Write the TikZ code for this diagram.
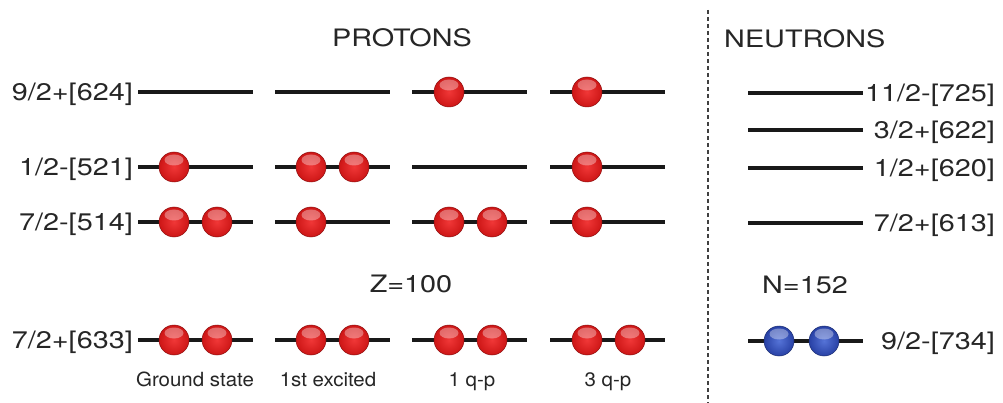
\documentclass[tikz,border=0pt]{standalone}
\usepackage{fontspec}
\setmainfont{TeX Gyre Heros}[FakeStretch=1.2]
\newfontfamily\capfont{TeX Gyre Heros}[FakeStretch=1.05]
\definecolor{redin}{RGB}{240,55,55}
\definecolor{redout}{RGB}{205,22,22}
\definecolor{bluein}{RGB}{85,115,215}
\definecolor{blueout}{RGB}{40,65,165}
\definecolor{levelgray}{RGB}{25,25,25}
\begin{document}
\begin{tikzpicture}[x=1pt,y=-1pt,
  level/.style={draw=levelgray,line width=3.6pt},
  lab/.style={font=\fontsize{24}{28}\selectfont,text=black!85,inner sep=0pt},
  caplab/.style={font=\capfont\fontsize{19.5}{22}\selectfont,text=black!85,inner sep=0pt,anchor=base},
  gloss/.style={path picture={\fill[white,opacity=0.35] ([yshift=-8pt]path picture bounding box.north) ellipse [x radius=9.5pt,y radius=5.5pt];}},
  pball/.style={circle,minimum size=30pt,inner sep=0pt,draw=redout!70!black,line width=0.5pt,inner color=redin,outer color=redout,gloss},
  nball/.style={circle,minimum size=30pt,inner sep=0pt,draw=blueout!70!black,line width=0.5pt,inner color=bluein,outer color=blueout,gloss},
  sep/.style={draw=black!75,line width=1.6pt,dash pattern=on 4pt off 3pt}]
\useasboundingbox (0,0) rectangle (1003,403);
\fill[white] (0,0) rectangle (1003,403);

% titles
\node[lab,anchor=base] (protons) at (402,47) {PROTONS};
\node[lab,anchor=base west] (neutrons) at (724,48) {NEUTRONS};
\node[lab,anchor=base] (z) at (411,292) {Z=100};
\node[lab,anchor=base] (n) at (805,293) {N=152};

% separator
\coordinate (septop) at (708,10);
\coordinate (sepbot) at (708,403);
\draw[sep] (septop) -- (sepbot);

% proton levels
\foreach \c/\x in {1/138,2/275,3/412,4/550}{
  \foreach \r/\y in {a/92,b/167,c/222,d/340}{
    \coordinate (L\c\r) at (\x,\y);
    \coordinate (R\c\r) at (\x+115,\y);
    \draw[level] (L\c\r) -- (R\c\r);
  }
}
% neutron levels
\foreach \r/\y in {a/93,b/130,c/168,d/223,e/341}{
  \coordinate (NL\r) at (748,\y);
  \coordinate (NR\r) at (863,\y);
  \draw[level] (NL\r) -- (NR\r);
}

% proton labels
\node[lab,anchor=base east] (l624) at (133,100.5) {9/2+[624]};
\node[lab,anchor=base east] (l521) at (133,175.5) {1/2-[521]};
\node[lab,anchor=base east] (l514) at (133,230.5) {7/2-[514]};
\node[lab,anchor=base east] (l633) at (133,348.5) {7/2+[633]};

% neutron labels
\node[lab,anchor=base east] (l725) at (995,101.5) {11/2-[725]};
\node[lab,anchor=base east] (l622) at (995,138.5) {3/2+[622]};
\node[lab,anchor=base east] (l620) at (995,176.5) {1/2+[620]};
\node[lab,anchor=base east] (l613) at (995,231.5) {7/2+[613]};
\node[lab,anchor=base east] (l734) at (995,349.5) {9/2-[734]};

% column captions
\node[caplab] (cap1) at (195,386) {Ground state};
\node[caplab] (cap2) at (328,386) {1st excited};
\node[caplab] (cap3) at (472,386) {1 q-p};
\node[caplab] (cap4) at (608,386) {3 q-p};

% protons: ground state
\node[pball] (g-b1) at (174,167) {};
\node[pball] (g-c1) at (174,222) {};
\node[pball] (g-c2) at (217,222) {};
\node[pball] (g-d1) at (174,340) {};
\node[pball] (g-d2) at (217,340) {};
% 1st excited
\node[pball] (e-b1) at (311,167) {};
\node[pball] (e-b2) at (354,167) {};
\node[pball] (e-c1) at (311,222) {};
\node[pball] (e-d1) at (311,340) {};
\node[pball] (e-d2) at (354,340) {};
% 1 q-p
\node[pball] (q-a1) at (449,92) {};
\node[pball] (q-c1) at (449,222) {};
\node[pball] (q-c2) at (492,222) {};
\node[pball] (q-d1) at (449,340) {};
\node[pball] (q-d2) at (492,340) {};
% 3 q-p
\node[pball] (t-a1) at (587,92) {};
\node[pball] (t-b1) at (587,167) {};
\node[pball] (t-c1) at (587,222) {};
\node[pball] (t-d1) at (587,340) {};
\node[pball] (t-d2) at (630,340) {};
% neutrons
\node[nball] (n-e1) at (779,341) {};
\node[nball] (n-e2) at (824,341) {};
\end{tikzpicture}
\end{document}
